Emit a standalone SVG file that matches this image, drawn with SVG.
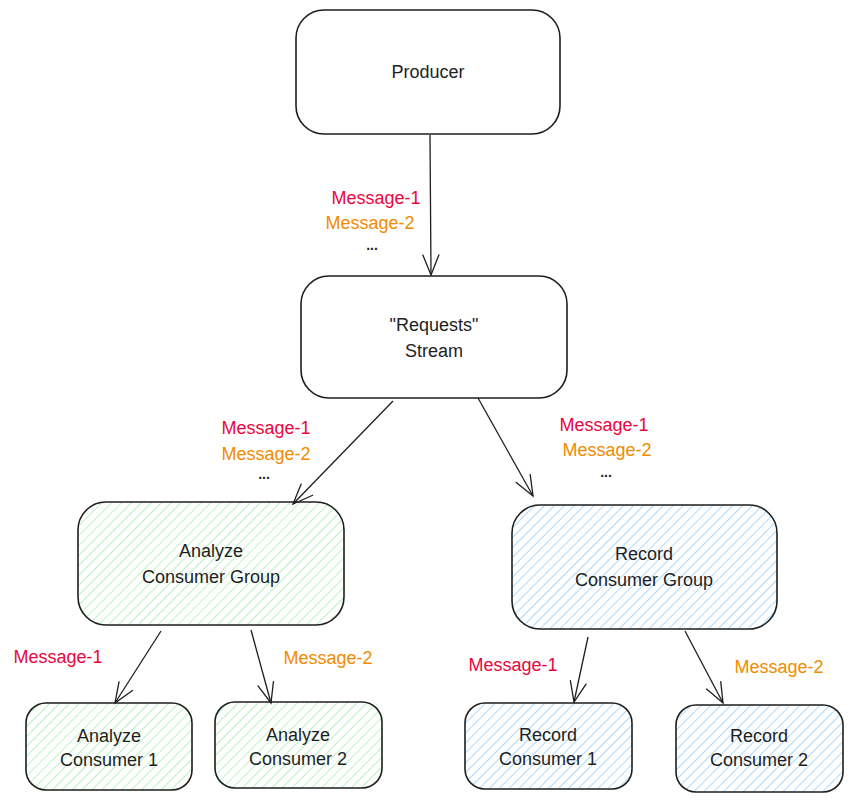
<svg xmlns="http://www.w3.org/2000/svg" width="852" height="802" viewBox="0 0 852 802">
<defs>
<pattern id="hg" width="7" height="7" patternUnits="userSpaceOnUse" patternTransform="rotate(45)">
<rect width="7" height="7" fill="#ffffff"/>
<line x1="0" y1="0" x2="0" y2="7" stroke="#8ce99a" stroke-width="1.2"/>
</pattern>
<pattern id="hb" width="7" height="7" patternUnits="userSpaceOnUse" patternTransform="rotate(45)">
<rect width="7" height="7" fill="#ffffff"/>
<line x1="0" y1="0" x2="0" y2="7" stroke="#74c0fc" stroke-width="1.2"/>
</pattern>
<marker id="ah" markerWidth="24" markerHeight="24" refX="22" refY="12" orient="auto" markerUnits="userSpaceOnUse">
<path d="M2,4 L22,12 L2,20" fill="none" stroke="#1e1e1e" stroke-width="1.3" stroke-linecap="round"/>
</marker>
</defs>
<style>
.box{stroke:#1e1e1e;stroke-width:1.6;}
.w{fill:#ffffff;}
.g{fill:url(#hg);}
.b{fill:url(#hb);}
.t{font-family:"Liberation Sans",Arial,sans-serif;font-size:18px;fill:#1e1e1e;text-anchor:middle;}
.m{font-family:"Liberation Sans",Arial,sans-serif;font-size:18px;text-anchor:middle;}
.d{font-family:"Liberation Sans",Arial,sans-serif;font-size:14px;font-weight:bold;text-anchor:middle;fill:#1e1e1e;}
.red{fill:#e8083e;}
.org{fill:#f08c00;}
.c{fill:none;stroke:#1e1e1e;stroke-width:1.3;marker-end:url(#ah);}
</style>
<rect width="852" height="802" fill="#ffffff"/>
<g id="producer">
<rect class="box w" x="296" y="10" width="264" height="124" rx="28"/>
<text class="t" x="428" y="78">Producer</text>
</g>
<g id="stream">
<rect class="box w" x="301" y="276" width="266" height="122" rx="28"/>
<text class="t" x="434" y="331">"Requests"</text>
<text class="t" x="434" y="357">Stream</text>
</g>
<g id="analyze-group">
<rect class="box g" x="78" y="502" width="266" height="123" rx="28"/>
<text class="t" x="211" y="557">Analyze</text>
<text class="t" x="211" y="583">Consumer Group</text>
</g>
<g id="record-group">
<rect class="box b" x="512" y="505" width="265" height="124" rx="28"/>
<text class="t" x="644" y="560">Record</text>
<text class="t" x="644" y="586">Consumer Group</text>
</g>
<g id="analyze-consumer-1">
<rect class="box g" x="26" y="703" width="166" height="87" rx="20"/>
<text class="t" x="109" y="742">Analyze</text>
<text class="t" x="109" y="766">Consumer 1</text>
</g>
<g id="analyze-consumer-2">
<rect class="box g" x="215" y="702" width="167" height="86" rx="20"/>
<text class="t" x="298" y="741">Analyze</text>
<text class="t" x="298" y="765">Consumer 2</text>
</g>
<g id="record-consumer-1">
<rect class="box b" x="465" y="703" width="167" height="86" rx="20"/>
<text class="t" x="548" y="741">Record</text>
<text class="t" x="548" y="765">Consumer 1</text>
</g>
<g id="record-consumer-2">
<rect class="box b" x="676" y="705" width="167" height="87" rx="20"/>
<text class="t" x="759" y="742">Record</text>
<text class="t" x="759" y="766">Consumer 2</text>
</g>
<g id="connectors">
<line class="c" x1="430" y1="135" x2="431" y2="275"/>
<line class="c" x1="393" y1="401" x2="293" y2="504"/>
<line class="c" x1="478" y1="398" x2="533" y2="496"/>
<line class="c" x1="161" y1="631" x2="115" y2="703"/>
<line class="c" x1="251" y1="630" x2="271" y2="703"/>
<line class="c" x1="588" y1="637" x2="574" y2="702"/>
<line class="c" x1="685" y1="631" x2="723" y2="703"/>
</g>
<g id="labels">
<text class="m red" x="376" y="204">Message-1</text>
<text class="m org" x="370" y="229">Message-2</text>
<text class="d" x="372" y="250">...</text>
<text class="m red" x="266" y="434">Message-1</text>
<text class="m org" x="266" y="460">Message-2</text>
<text class="d" x="264" y="479">...</text>
<text class="m red" x="604" y="431">Message-1</text>
<text class="m org" x="607" y="456">Message-2</text>
<text class="d" x="606" y="477">...</text>
<text class="m red" x="58" y="663">Message-1</text>
<text class="m org" x="328" y="664">Message-2</text>
<text class="m red" x="513" y="671">Message-1</text>
<text class="m org" x="779" y="673">Message-2</text>
</g>
</svg>
